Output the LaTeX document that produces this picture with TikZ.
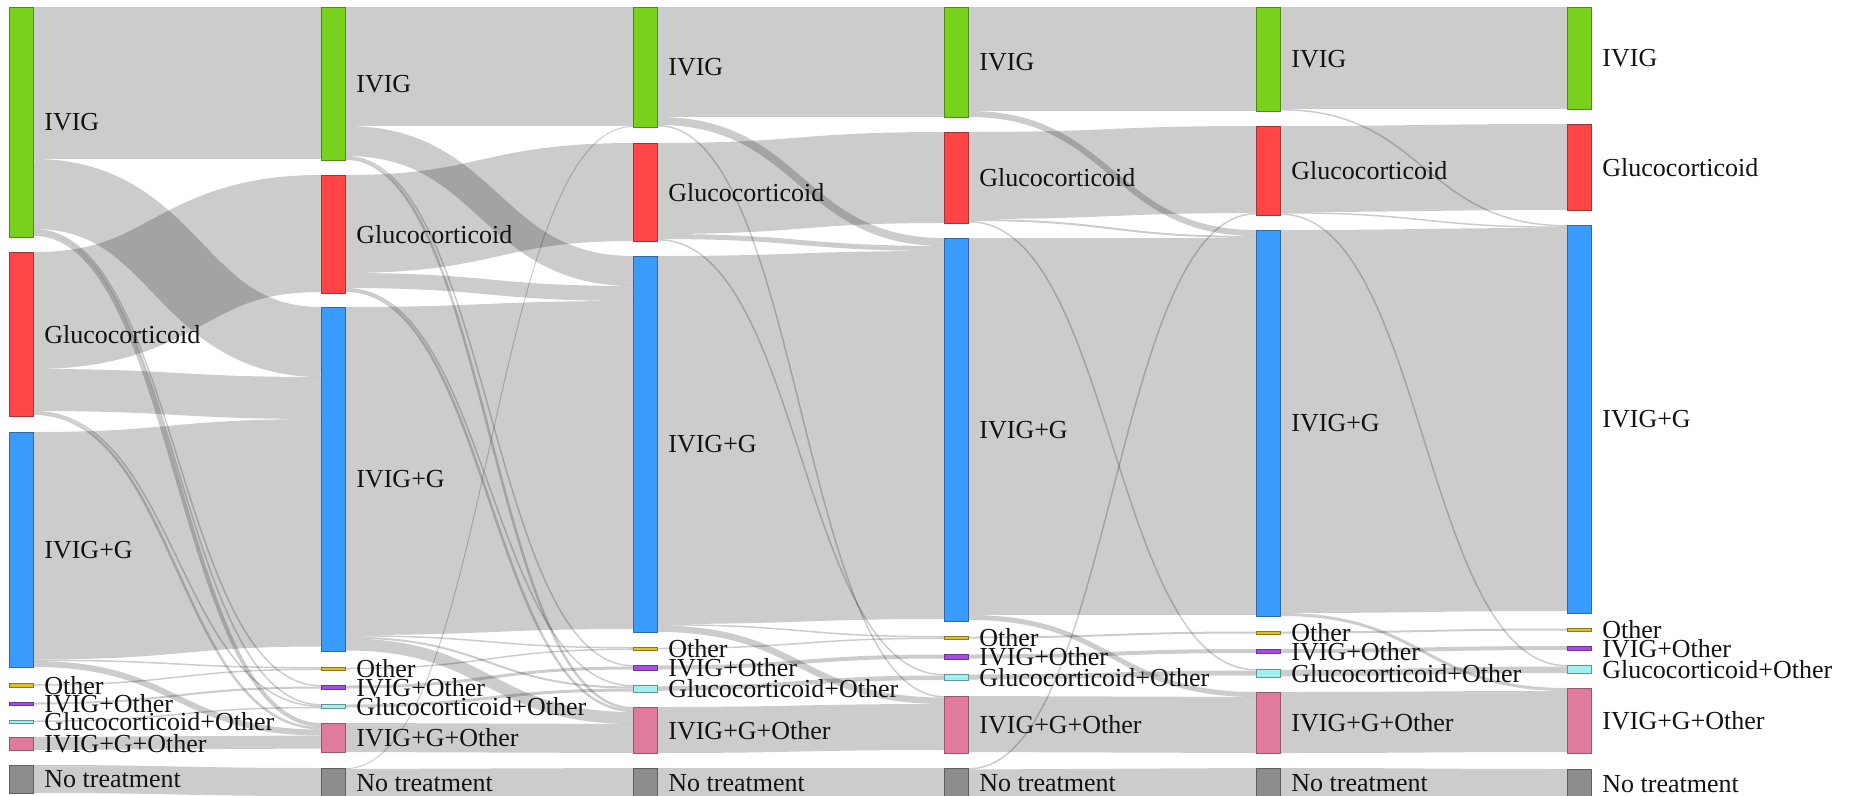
\documentclass[tikz,border=0pt]{standalone}
\usepackage{xcolor}
\usepackage{fontspec}
\setmainfont{Liberation Serif}
\usepackage{tikz}
\usetikzlibrary{positioning}

\pgfdeclarelayer{background}
\pgfsetlayers{background,main}

\definecolor{ivigF}{HTML}{78D21C}
\definecolor{ivigD}{HTML}{4E8A1A}
\definecolor{glucF}{HTML}{FF4545}
\definecolor{glucD}{HTML}{A53434}
\definecolor{ivgF}{HTML}{3A9BFF}
\definecolor{ivgD}{HTML}{2F6AA6}
\definecolor{othF}{HTML}{E0C020}
\definecolor{othD}{HTML}{8C7A1E}
\definecolor{ioF}{HTML}{A64BE6}
\definecolor{ioD}{HTML}{6E3596}
\definecolor{goF}{HTML}{A0F0F0}
\definecolor{goD}{HTML}{5E9494}
\definecolor{igoF}{HTML}{E07B9B}
\definecolor{igoD}{HTML}{96596A}
\definecolor{ntF}{HTML}{8C8C8C}
\definecolor{ntD}{HTML}{5E5E5E}

% source, centre below its top (px), target, centre below its top (px), width (px)
\newcommand\flow[5]{%
  \draw[link,line width=#5*0.5pt] ([yshift=-#2*0.5pt]#1.north east) .. controls +(72pt,0) and +(-72pt,0) .. ([yshift=-#4*0.5pt]#3.north west);
}

\begin{document}
\begin{tikzpicture}[x=0.5pt,y=-0.5pt]
    \tikzstyle{drug}=[rectangle,inner sep=0pt,minimum width=12pt,anchor=north west,line width=0.5pt]
    \tikzstyle{ht}=[minimum height=#1*0.5pt]
    \tikzstyle{ivig}=[fill=ivigF,draw=ivigD]
    \tikzstyle{gluc}=[fill=glucF,draw=glucD]
    \tikzstyle{ivg}=[fill=ivgF,draw=ivgD]
    \tikzstyle{oth}=[fill=othF,draw=othD]
    \tikzstyle{io}=[fill=ioF,draw=ioD]
    \tikzstyle{go}=[fill=goF,draw=goD]
    \tikzstyle{igo}=[fill=igoF,draw=igoD]
    \tikzstyle{notx}=[fill=ntF,draw=ntD]
    \tikzstyle{lbl}=[inner sep=0pt,text=black!93,font=\fontsize{13pt}{15pt}\selectfont]
    \tikzstyle{link}=[draw=black,draw opacity=0.2]

    \useasboundingbox (0,0) rectangle (1856,796);
    \clip (0,0) rectangle (1856,796);

    % stage 1
    \node (i1)[drug,ivig,ht=230] at (9,7) {};
    \node (g1)[drug,gluc,ht=164] at (9,252) {};
    \node (ig1)[drug,ivg,ht=235] at (9,432) {};
    \node (o1)[drug,oth,ht=3.5] at (9,683) {};
    \node (io1)[drug,io,ht=3] at (9,702) {};
    \node (go1)[drug,go,ht=2.5] at (9,720) {};
    \node (igo1)[drug,igo,ht=13] at (9,737) {};
    \node (n1)[drug,notx,ht=28] at (9,765) {};

    % stage 2
    \node (i2)[drug,ivig,ht=153] at (321,7) {};
    \node (g2)[drug,gluc,ht=118] at (321,175) {};
    \node (ig2)[drug,ivg,ht=344] at (321,307) {};
    \node (o2)[drug,oth,ht=3] at (321,667) {};
    \node (io2)[drug,io,ht=4] at (321,685) {};
    \node (go2)[drug,go,ht=4] at (321,704) {};
    \node (igo2)[drug,igo,ht=29] at (321,723) {};
    \node (n2)[drug,notx,ht=30] at (321,768) {};

    % stage 3
    \node (i3)[drug,ivig,ht=120] at (633,7) {};
    \node (g3)[drug,gluc,ht=98] at (633,143) {};
    \node (ig3)[drug,ivg,ht=376] at (633,256) {};
    \node (o3)[drug,oth,ht=3] at (633,647) {};
    \node (io3)[drug,io,ht=5] at (633,665) {};
    \node (go3)[drug,go,ht=7] at (633,685) {};
    \node (igo3)[drug,igo,ht=46] at (633,707) {};
    \node (n3)[drug,notx,ht=30] at (633,768) {};

    % stage 4
    \node (i4)[drug,ivig,ht=110] at (944,7) {};
    \node (g4)[drug,gluc,ht=91] at (944,132) {};
    \node (ig4)[drug,ivg,ht=383] at (944,238) {};
    \node (o4)[drug,oth,ht=3] at (944,636) {};
    \node (io4)[drug,io,ht=5] at (944,654) {};
    \node (go4)[drug,go,ht=6] at (944,674) {};
    \node (igo4)[drug,igo,ht=57] at (944,696) {};
    \node (n4)[drug,notx,ht=30] at (944,768) {};

    % stage 5
    \node (i5)[drug,ivig,ht=104] at (1256,7) {};
    \node (g5)[drug,gluc,ht=89] at (1256,126) {};
    \node (ig5)[drug,ivg,ht=386] at (1256,230) {};
    \node (o5)[drug,oth,ht=3] at (1256,631) {};
    \node (io5)[drug,io,ht=4] at (1256,649) {};
    \node (go5)[drug,go,ht=8] at (1256,669) {};
    \node (igo5)[drug,igo,ht=61] at (1256,692) {};
    \node (n5)[drug,notx,ht=30] at (1256,768) {};

    % stage 6
    \node (i6)[drug,ivig,ht=102] at (1567,7) {};
    \node (g6)[drug,gluc,ht=86] at (1567,124) {};
    \node (ig6)[drug,ivg,ht=388] at (1567,225) {};
    \node (o6)[drug,oth,ht=3] at (1567,628) {};
    \node (io6)[drug,io,ht=4] at (1567,646) {};
    \node (go6)[drug,go,ht=8] at (1567,665) {};
    \node (igo6)[drug,igo,ht=65] at (1567,688) {};
    \node (n6)[drug,notx,ht=30] at (1567,769) {};

    \foreach \c in {1,...,6} {
        \node (t-i\c)[lbl,right=5pt of i\c] {IVIG};
        \node (t-g\c)[lbl,right=5pt of g\c] {Glucocorticoid};
        \node (t-ig\c)[lbl,right=5pt of ig\c] {IVIG+G};
        \node (t-o\c)[lbl,right=5pt of o\c] {Other};
        \node (t-io\c)[lbl,right=5pt of io\c] {IVIG+Other};
        \node (t-go\c)[lbl,right=5pt of go\c] {Glucocorticoid+Other};
        \node (t-igo\c)[lbl,right=5pt of igo\c] {IVIG+G+Other};
        \node (t-n\c)[lbl,right=5pt of n\c] {No treatment};
    }

    \begin{pgfonlayer}{background}
    % stage 1 -> 2
    \flow{i1}{76}{i2}{76}{152}
    \flow{i1}{187}{ig2}{35}{70}
    \flow{i1}{222.75}{io2}{0.75}{1.5}
    \flow{i1}{224.25}{go2}{0.75}{1.5}
    \flow{i1}{227}{igo2}{2}{4}
    \flow{g1}{58.5}{g2}{58.5}{117}
    \flow{g1}{138}{ig2}{91}{42}
    \flow{g1}{159.75}{go2}{2.25}{1.5}
    \flow{g1}{161.75}{igo2}{5.25}{2.5}
    \flow{ig1}{113.75}{ig2}{225.75}{227.5}
    \flow{ig1}{228.25}{o2}{0.75}{1.5}
    \flow{ig1}{232}{igo2}{9.5}{6}
    \flow{o1}{2}{o2}{2.25}{1.5}
    \flow{io1}{1.5}{io2}{2.5}{2}
    \flow{go1}{1.25}{go2}{3.5}{1.5}
    \flow{igo1}{6.5}{igo2}{19}{13}
    \flow{n1}{14}{n2}{14}{28}

    % stage 2 -> 3
    \flow{i2}{59.5}{i3}{59.5}{119}
    \flow{i2}{134}{ig3}{15}{30}
    \flow{i2}{149.75}{io3}{0.75}{1.5}
    \flow{i2}{151.75}{igo3}{1.25}{2.5}
    \flow{g2}{49}{g3}{49}{98}
    \flow{g2}{105.5}{ig3}{37.5}{15}
    \flow{g2}{113.75}{go3}{0.75}{1.5}
    \flow{g2}{115.75}{igo3}{3.75}{2.5}
    \flow{ig2}{164}{ig3}{209}{328}
    \flow{ig2}{328.75}{o3}{0.75}{1.5}
    \flow{ig2}{330.5}{go3}{2.5}{2}
    \flow{ig2}{337.5}{igo3}{11}{12}
    \flow{o2}{1.5}{o3}{2.25}{1.5}
    \flow{io2}{2}{io3}{3}{3}
    \flow{go2}{2}{go3}{5}{3}
    \flow{igo2}{14.5}{igo3}{31.5}{29}
    \flow{n2}{0.5}{i3}{119.5}{1}
    \flow{n2}{15.5}{n3}{14.5}{29}

    % stage 3 -> 4
    \flow{i3}{55}{i4}{55}{110}
    \flow{i3}{114}{ig4}{4}{8}
    \flow{i3}{118.75}{igo4}{0.75}{1.5}
    \flow{g3}{45.5}{g4}{45.5}{91}
    \flow{g3}{93.5}{ig4}{10.5}{5}
    \flow{g3}{96.75}{go4}{0.75}{1.5}
    \flow{ig3}{184}{ig4}{197}{368}
    \flow{ig3}{368.75}{o4}{0.75}{1.5}
    \flow{ig3}{372.75}{igo4}{4.75}{6.5}
    \flow{o3}{1.5}{o4}{2.25}{1.5}
    \flow{io3}{2.5}{io4}{2.5}{4}
    \flow{go3}{3.5}{go4}{3.75}{4.5}
    \flow{igo3}{23}{igo4}{31}{46}
    \flow{n3}{15}{n4}{15}{30}

    % stage 4 -> 5
    \flow{i4}{52}{i5}{52}{104}
    \flow{i4}{107}{ig5}{3}{6}
    \flow{g4}{43.5}{g5}{43.5}{87}
    \flow{g4}{88}{ig5}{7}{2}
    \flow{g4}{89.75}{go5}{0.75}{1.5}
    \flow{n4}{0.75}{g5}{87.75}{1.5}
    \flow{ig4}{188.5}{ig5}{196.5}{377}
    \flow{ig4}{379.5}{igo5}{2.5}{5}
    \flow{o4}{1.5}{o5}{1.5}{2}
    \flow{io4}{2.5}{io5}{2}{4}
    \flow{go4}{3}{go5}{4}{5}
    \flow{igo4}{28}{igo5}{33}{56}
    \flow{n4}{15.75}{n5}{14.25}{28.5}

    % stage 5 -> 6
    \flow{i5}{51}{i6}{51}{102}
    \flow{i5}{102.75}{ig6}{0.75}{1.5}
    \flow{g5}{43}{g6}{43}{86}
    \flow{g5}{86.75}{ig6}{2.25}{1.5}
    \flow{g5}{88.25}{go6}{0.75}{1.5}
    \flow{ig5}{191.5}{ig6}{194.5}{383}
    \flow{ig5}{384.5}{igo6}{1.5}{3}
    \flow{o5}{1.5}{o6}{1.5}{2}
    \flow{io5}{2}{io6}{2}{4}
    \flow{go5}{4}{go6}{4.75}{6.5}
    \flow{igo5}{30.5}{igo6}{33.5}{61}
    \flow{n5}{14.5}{n6}{14.5}{29}
    \end{pgfonlayer}
\end{tikzpicture}
\end{document}
